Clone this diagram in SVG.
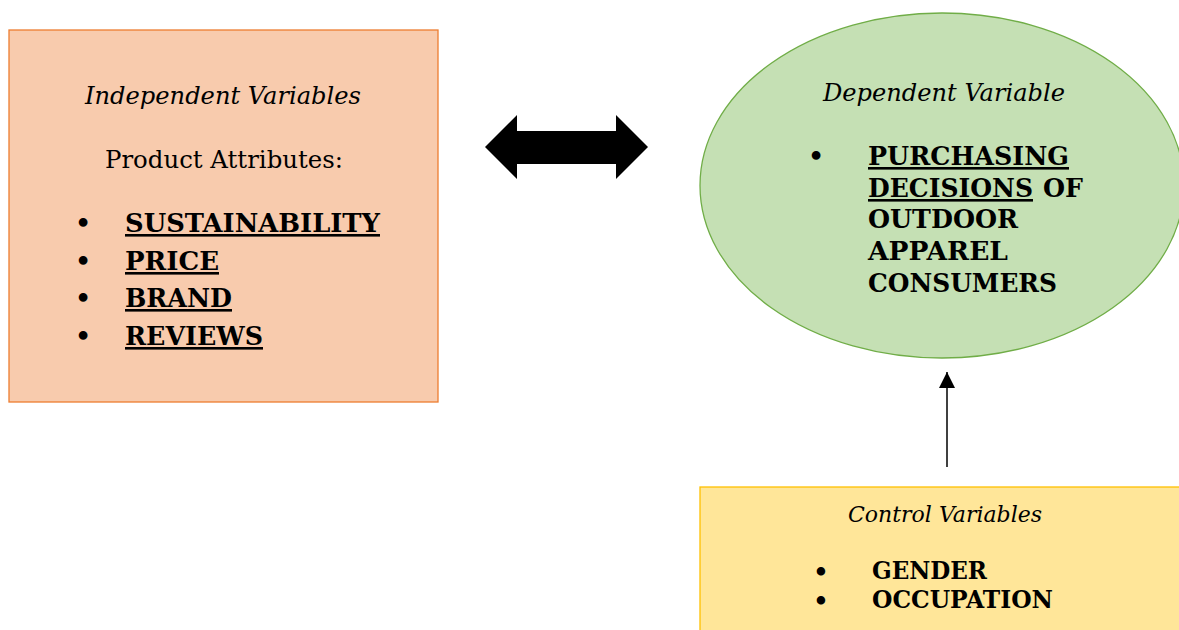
<svg xmlns="http://www.w3.org/2000/svg" width="1179" height="630" viewBox="0 0 1179 630">
<style>
.t{font-family:"DejaVu Serif","Liberation Serif",serif;fill:#000}
.it{font-style:italic;font-size:25px}
.rg{font-size:25px}
.b{font-weight:bold;font-size:26px}
.u{text-decoration:underline}
.bl{font-size:30px;text-anchor:middle}
.bs{font-size:24px;font-weight:bold;text-anchor:middle}
</style>
<defs>
<marker id="ah" markerWidth="16" markerHeight="16" refX="16" refY="8" orient="auto" markerUnits="userSpaceOnUse">
<path d="M0,0 L16,8 L0,16 Z" fill="#000"/>
</marker>
</defs>
<rect width="1179" height="630" fill="#fff"/>
<g id="connectors">
<path d="M485,147 L517,115 L517,131 L616,131 L616,115 L648,147 L616,179 L616,164 L517,164 L517,179 Z" fill="#000"/>
<line x1="947" y1="467" x2="947" y2="372" stroke="#000" stroke-width="1.5" marker-end="url(#ah)"/>
</g>
<g id="independent">
<rect x="9" y="30" width="429" height="372" fill="#F8CBAD" stroke="#ED7D31" stroke-width="1.3"/>
<text class="t it" x="85" y="104" textLength="276" lengthAdjust="spacingAndGlyphs">Independent Variables</text>
<text class="t rg" x="105" y="168" textLength="238" lengthAdjust="spacingAndGlyphs">Product Attributes:</text>
<text class="t bl" x="83" y="234">•</text>
<text class="t bl" x="83" y="272">•</text>
<text class="t bl" x="83" y="309">•</text>
<text class="t bl" x="83" y="347">•</text>
<text class="t b u" x="125" y="232" textLength="255" lengthAdjust="spacingAndGlyphs">SUSTAINABILITY</text>
<text class="t b u" x="125" y="270" textLength="94" lengthAdjust="spacingAndGlyphs">PRICE</text>
<text class="t b u" x="125" y="307" textLength="107" lengthAdjust="spacingAndGlyphs">BRAND</text>
<text class="t b u" x="125" y="345" textLength="138" lengthAdjust="spacingAndGlyphs">REVIEWS</text>
</g>
<g id="dependent">
<ellipse cx="942" cy="185.5" rx="242" ry="172.5" fill="#C5E0B4" stroke="#70AD47" stroke-width="1.3"/>
<text class="t it" x="823" y="101" textLength="242" lengthAdjust="spacingAndGlyphs">Dependent Variable</text>
<text class="t bl" x="816" y="167">•</text>
<text class="t b u" x="868" y="165" textLength="201" lengthAdjust="spacingAndGlyphs">PURCHASING</text>
<text class="t b u" x="868" y="197" textLength="165" lengthAdjust="spacingAndGlyphs">DECISIONS</text>
<text class="t b" x="1043" y="197" textLength="40" lengthAdjust="spacingAndGlyphs">OF</text>
<text class="t b" x="868" y="228" textLength="150" lengthAdjust="spacingAndGlyphs">OUTDOOR</text>
<text class="t b" x="868" y="260" textLength="140" lengthAdjust="spacingAndGlyphs">APPAREL</text>
<text class="t b" x="868" y="292" textLength="189" lengthAdjust="spacingAndGlyphs">CONSUMERS</text>
</g>
<g id="control">
<rect x="700" y="487" width="490" height="160" fill="#FFE699" stroke="#FFC000" stroke-width="1.3"/>
<text class="t it" x="848" y="522" style="font-size:22px" textLength="194" lengthAdjust="spacingAndGlyphs">Control Variables</text>
<text class="t bs" x="821" y="580">•</text>
<text class="t bs" x="821" y="609">•</text>
<text class="t b" x="872" y="579" style="font-size:24px" textLength="115" lengthAdjust="spacingAndGlyphs">GENDER</text>
<text class="t b" x="872" y="608" style="font-size:24px" textLength="181" lengthAdjust="spacingAndGlyphs">OCCUPATION</text>
</g>
</svg>
